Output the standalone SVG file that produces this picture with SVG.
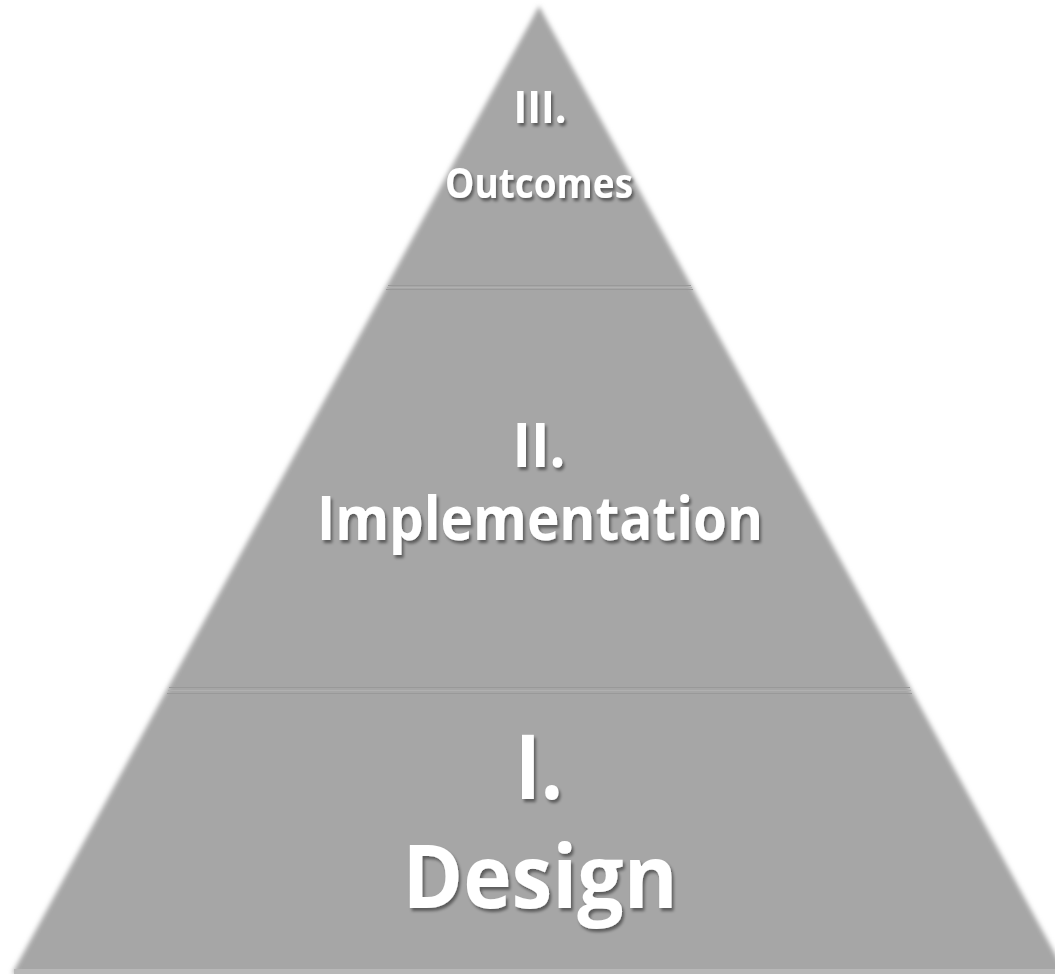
<svg xmlns="http://www.w3.org/2000/svg" width="1055" height="974" viewBox="0 0 1055 974">
  <defs>
    <filter id="soft" x="-5%" y="-5%" width="110%" height="110%">
      <feGaussianBlur stdDeviation="2.8"/>
    </filter>
    <filter id="shadow" x="-10%" y="-20%" width="120%" height="150%">
      <feDropShadow dx="2" dy="3" stdDeviation="1.8" flood-color="#000000" flood-opacity="0.45"/>
    </filter>
  </defs>
  <style>
    .lbl { font-family: "Open Sans", "Noto Sans", "Liberation Sans", sans-serif; font-weight: bold; fill: #ffffff; text-anchor: middle; filter: url(#shadow); }
    .div-dark { stroke: #999999; stroke-width: 1; }
    .div-light { stroke: #b0b0b0; stroke-width: 1; }
  </style>
  <rect x="0" y="0" width="1055" height="974" fill="#ffffff"/>
  <g id="pyramid">
    <polygon points="539,6 12,974 1066,974" fill="#a6a6a6" filter="url(#soft)"/>
    <rect x="14" y="969" width="1041" height="5" fill="#b8b8b8"/>
  </g>
  <g id="connectors">
    <line class="div-dark" x1="388" y1="285.5" x2="691" y2="285.5"/>
    <line class="div-light" x1="387" y1="287.5" x2="692" y2="287.5"/>
    <line class="div-dark" x1="386" y1="289.5" x2="693" y2="289.5"/>
    <line class="div-dark" x1="169" y1="687.5" x2="910" y2="687.5"/>
    <line class="div-light" x1="168" y1="690.5" x2="911" y2="690.5"/>
    <line class="div-dark" x1="167" y1="693.5" x2="912" y2="693.5"/>
  </g>
  <g id="tier-3">
    <text class="lbl" x="540" y="123" font-size="44" textLength="53" lengthAdjust="spacingAndGlyphs">III.</text>
    <text class="lbl" x="539" y="198" font-size="42" textLength="188" lengthAdjust="spacingAndGlyphs">Outcomes</text>
  </g>
  <g id="tier-2">
    <text class="lbl" x="539" y="467" font-size="61" textLength="53" lengthAdjust="spacingAndGlyphs">II.</text>
    <text class="lbl" x="540" y="540" font-size="60" textLength="446" lengthAdjust="spacingAndGlyphs">Implementation</text>
  </g>
  <g id="tier-1">
    <text class="lbl" x="539" y="799" font-size="89" textLength="48" lengthAdjust="spacingAndGlyphs">I.</text>
    <text class="lbl" x="540" y="908" font-size="88" textLength="275" lengthAdjust="spacingAndGlyphs">Design</text>
  </g>
</svg>
